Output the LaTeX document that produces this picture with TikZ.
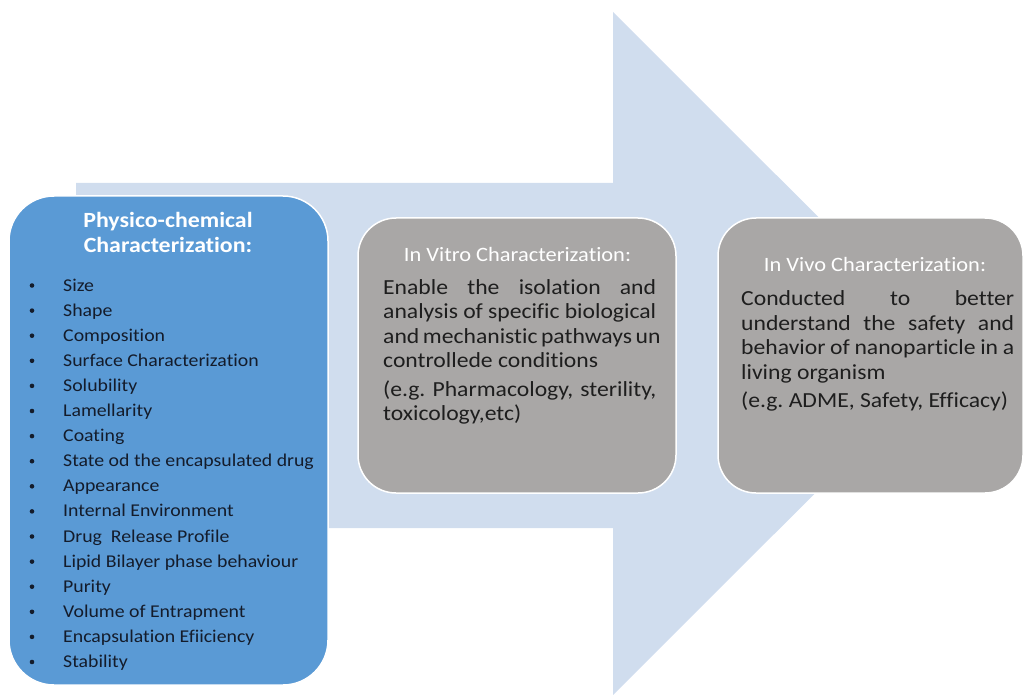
\documentclass[tikz,border=0pt]{standalone}
\usepackage{fontspec}
\setmainfont{Carlito}[FakeStretch=1.1, Ligatures=NoCommon]
\frenchspacing

\definecolor{arrowblue}{HTML}{D0DDEE}
\definecolor{physblue}{HTML}{5A9AD5}
\definecolor{stagegray}{HTML}{A9A7A6}
\definecolor{listink}{HTML}{141C2B}
\definecolor{bodyink}{HTML}{1E1E1E}

\tikzset{
  panel/.style={rectangle, draw=white, line width=1.5pt, inner sep=0pt},
  bluepanel/.style={panel, fill=physblue, rounded corners=45pt},
  graypanel/.style={panel, fill=stagegray, rounded corners=38pt},
  headline/.style={inner sep=0pt, anchor=base, text=white},
  bodyline/.style={inner sep=0pt, anchor=base west, text=bodyink,
    font=\fontsize{21.5}{24}\selectfont},
  listline/.style={inner sep=0pt, anchor=base west, text=listink,
    font=\fontsize{18}{20}\selectfont},
  listdot/.style={circle, fill=listink, inner sep=0pt, minimum size=4.6pt},
}
% a justified line of the stage descriptions
\newcommand{\fullline}[1]{\makebox[273pt][s]{#1}}

\begin{document}
\begin{tikzpicture}[x=1pt,y=-1pt]
\useasboundingbox (0,0) rectangle (1025,695);

% large process arrow in the background
\fill[arrowblue] (76,183) -- (613,183) -- (613,12) -- (955,353.5)
  -- (613,695) -- (613,528) -- (76,528) -- cycle;

% the three stages
\node[bluepanel, minimum width=319pt, minimum height=489pt] (phys) at (168.5,440.5) {};
\node[graypanel, minimum width=318pt, minimum height=275pt] (vitro) at (517,355.5) {};
\node[graypanel, minimum width=305pt, minimum height=275pt] (vivo) at (870.5,355.5) {};

% physico-chemical characterization
\node[headline, font=\bfseries\fontsize{21.7}{24}\selectfont] (physA) at (168,227) {Physico-chemical};
\node[headline, font=\bfseries\fontsize{21.7}{24}\selectfont] (physB) at (168,252) {Characterization:};
\foreach \entry [count=\i] in {Size, Shape, Composition, Surface Characterization,
    Solubility, Lamellarity, Coating, State od the encapsulated drug, Appearance,
    Internal Environment, Drug\ \ Release Profile, Lipid Bilayer phase behaviour,
    Purity, Volume of Entrapment, Encapsulation Efiiciency, Stability} {
  \node[listdot] (dot\i) at (32,{285.5+25.1*(\i-1)}) {};
  \node[listline] (item\i) at (63,{291+25.1*(\i-1)}) {\entry};
}

% in vitro characterization
\node[headline, font=\fontsize{20.4}{24}\selectfont] (vitroT) at (517.5,261) {In Vitro Characterization:};
\node[bodyline] (vitro1) at (383,294) {\fullline{Enable the isolation and}};
\node[bodyline] (vitro2) at (383,318.5) {\fullline{analysis of specific biological}};
\node[bodyline] (vitro3) at (383,343) {\fullline{and mechanistic pathways un}};
\node[bodyline] (vitro4) at (383,367.5) {controllede conditions};
\node[bodyline] (vitro5) at (383,396) {\fullline{(e.g. Pharmacology, sterility,}};
\node[bodyline] (vitro6) at (383,420.5) {toxicology,etc)};

% in vivo characterization
\node[headline, font=\fontsize{20.4}{24}\selectfont] (vivoT) at (875,271.5) {In Vivo Characterization:};
\node[bodyline] (vivo1) at (741,305.5) {\fullline{Conducted to better}};
\node[bodyline] (vivo2) at (741,330) {\fullline{understand the safety and}};
\node[bodyline] (vivo3) at (741,354.5) {\fullline{behavior of nanoparticle in a}};
\node[bodyline] (vivo4) at (741,379) {living organism};
\node[bodyline] (vivo5) at (741,407.5) {(e.g. ADME, Safety, Efficacy)};
\end{tikzpicture}
\end{document}
